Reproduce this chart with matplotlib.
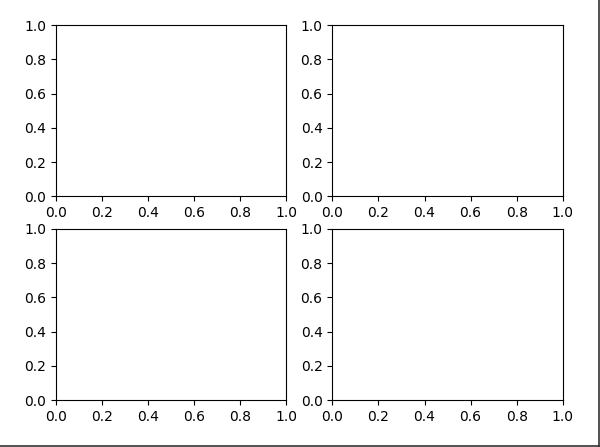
import matplotlib
matplotlib.use("Agg")
import matplotlib.pyplot as plt
from matplotlib.lines import Line2D

# empty 2x2 grid, default 0..1 limits
n_rows = 2
n_cols = 2
x_limits = [0.0, 1.0]
y_limits = [0.0, 1.0]

fig, axes = plt.subplots(n_rows, n_cols, figsize=(6, 4.47), dpi=100)
fig.subplots_adjust(left=0.093, right=0.938, top=0.944, bottom=0.105,
                    wspace=0.2, hspace=0.19)
for ax in axes.flat:
    ax.set_xlim(x_limits)
    ax.set_ylim(y_limits)

# screenshot frame on the right and bottom edges
fig.add_artist(Line2D([0, 1], [0.002, 0.002], transform=fig.transFigure,
                      color="#333333", linewidth=1.2))
fig.add_artist(Line2D([0.998, 0.998], [0, 1], transform=fig.transFigure,
                      color="#333333", linewidth=1.2))

fig.savefig("out.png")
